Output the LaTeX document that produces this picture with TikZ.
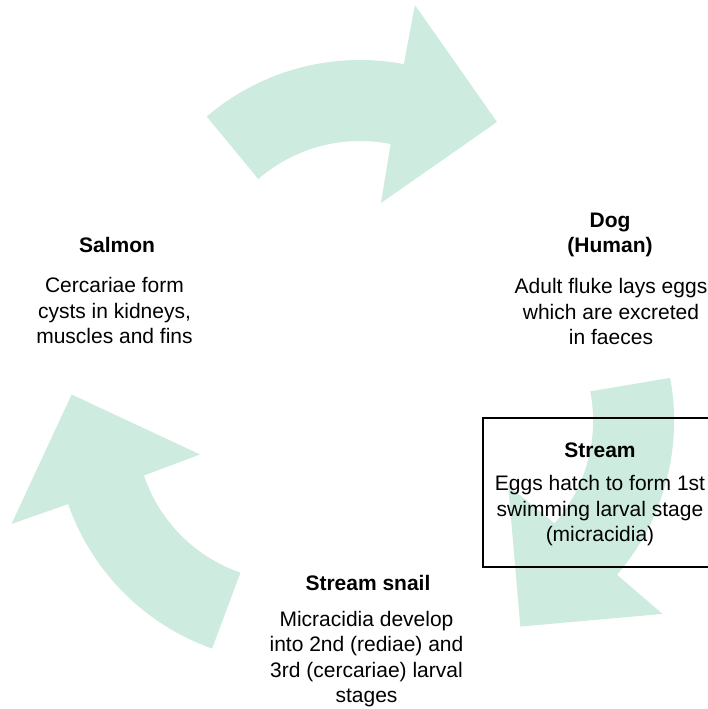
\documentclass[tikz,border=0pt]{standalone}
\usepackage{fontspec}
\setmainfont{Liberation Sans}
\definecolor{mint}{RGB}{205,235,223}

\begin{document}
\begin{tikzpicture}[x=1pt, y=1pt, font=\fontsize{21}{25.5}\selectfont,
	stage/.style={font=\fontsize{21}{25.5}\selectfont\bfseries, inner sep=0pt, align=center},
	note/.style={inner sep=0pt, align=center},
	habitat/.style={draw=black, line width=1.2pt, minimum width=234pt, minimum height=149pt}]

	\useasboundingbox (0,0) rectangle (708,709);
	\clip (0,0) rectangle (708,709);

	% one curved arrow, turned by 120 degrees for each step of the cycle
	\foreach \a in {0,120,240}
		\fill[mint, rotate around={\a:(363,328)}, shift={(360,413)}]
			(130.5:236) arc[start angle=130.5, end angle=79.3, radius=236]
			-- (79.3:296) -- (51.8:221.5) -- (77.3:95.3) -- (78.6:155)
			arc[start angle=78.6, end angle=131, radius=155] -- cycle;

	% hosts and what happens there (base = last line)
	\node[stage, anchor=base] (salmon) at (117,456) {Salmon};
	\node[note, anchor=base] (salmontxt) at (114.5,365) {Cercariae form\\cysts in kidneys,\\muscles and fins};

	\node[stage, anchor=base] (dog) at (610,456) {Dog\\(Human)};
	\node[note, anchor=base] (dogtxt) at (611,364) {Adult fluke lays eggs\\which are excreted\\in faeces};

	\node[habitat] (streambox) at (600,216.5) {};
	\node[stage, anchor=base] (stream) at (600,251) {Stream};
	\node[note, anchor=base] (streamtxt) at (600,167) {Eggs hatch to form 1st\\swimming larval stage\\(micracidia)};

	\node[stage, anchor=base] (snail) at (368,118.5) {Stream snail};
	\node[note, anchor=base] (snailtxt) at (366.5,6) {Micracidia develop\\into 2nd (rediae) and\\3rd (cercariae) larval\\stages};

\end{tikzpicture}
\end{document}
